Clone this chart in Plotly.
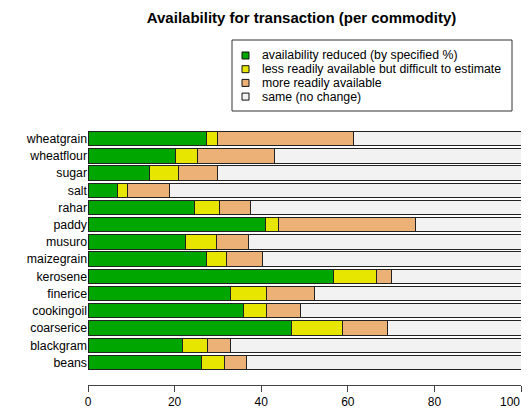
import plotly.graph_objects as go

# commodities, top to bottom as drawn
commodities = ['wheatgrain', 'wheatflour', 'sugar', 'salt', 'rahar', 'paddy', 'musuro',
               'maizegrain', 'kerosene', 'finerice', 'cookingoil', 'coarserice', 'blackgram', 'beans']

# percentage of respondents per category
reduced = [27.3, 20.1, 14.1, 6.7, 24.7, 41.1, 22.6, 27.3, 56.8, 33.0, 36.0, 46.9, 21.9, 26.1]
less_avail = [2.5, 5.1, 6.9, 2.5, 5.6, 2.8, 7.0, 4.8, 9.9, 8.3, 5.3, 11.8, 5.6, 5.5]
more_avail = [31.4, 17.8, 8.8, 9.7, 7.3, 31.8, 7.4, 8.3, 3.5, 11.1, 7.7, 10.4, 5.3, 4.9]
same = [38.8, 57.0, 70.2, 81.1, 62.4, 24.3, 63.0, 59.6, 29.8, 47.6, 51.0, 30.9, 67.2, 63.5]

x_ticks = [0, 20, 40, 60, 80, 100]
x_ticktext = ['0', '20', '40', '60', '80', '100']

series_names = ['availability reduced (by specified %)',
                'less readily available but difficult to estimate',
                'more readily available',
                'same (no change)']
colors = ['#00A600', '#E6E600', '#ECB176', '#F2F2F2']

# page body has an 8px margin, so the figure is drawn smaller and offset
OFF = 8
W, H = 531 - OFF, 416 - 2 * OFF
L, R, T, B = 88 - OFF, 10, 130 - OFF, 31 - OFF

def px_x(p):
    return (p - OFF - L) / (W - L - R)

def px_y(p):
    return (H - B - (p - OFF)) / (H - T - B)

fig = go.Figure()
for name, vals, col in zip(series_names, [reduced, less_avail, more_avail, same], colors):
    fig.add_trace(go.Bar(
        y=commodities, x=vals, name=name, orientation='h',
        marker=dict(color=col, line=dict(color='#222222', width=1)),
        showlegend=False,
    ))

# legend drawn by hand (R style, tight spacing)
shapes = [dict(type='rect', xref='paper', yref='paper',
               x0=px_x(232), x1=px_x(512), y0=px_y(40), y1=px_y(111),
               line=dict(color='#333333', width=1), fillcolor='white')]
annotations = []
row_y = [55.5, 69.2, 82.9, 96.6]
for name, col, yy in zip(series_names, colors, row_y):
    shapes.append(dict(type='rect', xref='paper', yref='paper',
                       x0=px_x(242), x1=px_x(249), y0=px_y(yy - 3.5), y1=px_y(yy + 3.5),
                       line=dict(color='#111111', width=1), fillcolor=col))
    annotations.append(dict(text=name, xref='paper', yref='paper',
                            x=px_x(260), y=px_y(yy), xanchor='left', yanchor='middle',
                            showarrow=False, font=dict(size=12.3, color='black')))

# last x label placed by hand so it stays inside the window
annotations.append(dict(text=x_ticktext[-1], xref='paper', yref='paper',
                        x=px_x(522), y=px_y(402), xanchor='right', yanchor='middle',
                        showarrow=False, font=dict(size=12, color='black')))

fig.update_layout(
    barmode='stack',
    bargap=0.167,
    width=W, height=H,
    margin=dict(l=L, r=R, t=T, b=B),
    paper_bgcolor='white', plot_bgcolor='white',
    font=dict(family='Liberation Sans, Arial, sans-serif', size=12, color='black'),
    title=dict(text='<b>Availability for transaction (per commodity)</b>',
               x=(301.5 - OFF) / W, xanchor='center', y=1 - (18 - OFF) / H, yanchor='middle',
               font=dict(size=15, color='black')),
    shapes=shapes,
    annotations=annotations,
    showlegend=False,
)

fig.update_xaxes(range=[0, 100], tickvals=x_ticks, ticktext=x_ticktext[:-1] + [''],
                 showgrid=False, zeroline=False, showline=True, linecolor='#444444',
                 ticks='outside', ticklen=6, tickcolor='#444444', automargin=False,
                 tickfont=dict(size=12, color='black'))
fig.update_yaxes(categoryorder='array', categoryarray=commodities,
                 range=[14.31, -0.5], showgrid=False, zeroline=False, showline=False,
                 ticks='', automargin=False, tickfont=dict(size=12.3, color='black'))

fig.write_html('out.html')
